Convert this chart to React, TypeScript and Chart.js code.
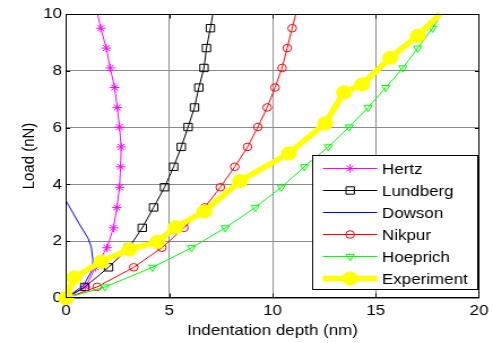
import React, { useEffect, useRef } from 'react';
import { Chart, registerables } from 'chart.js';

Chart.register(...registerables);

// ---- data ----
const loadModel = [0, 0.39, 1.08, 1.77, 2.47, 3.19, 3.9, 4.62, 5.32, 6.02, 6.71, 7.41, 8.1, 8.8, 9.5, 10.0];
const hertzDepth = [0, 0.95, 1.42, 1.98, 2.3, 2.46, 2.59, 2.64, 2.67, 2.59, 2.48, 2.35, 2.14, 1.95, 1.68, 1.53];
const lundbergDepth = [0, 0.91, 2.06, 3.04, 3.69, 4.24, 4.77, 5.21, 5.58, 5.91, 6.22, 6.43, 6.68, 6.8, 6.99, 7.11];
const nikpurDepth = [0, 1.5, 3.28, 4.64, 5.71, 6.71, 7.47, 8.17, 8.79, 9.29, 9.74, 10.12, 10.46, 10.71, 10.95, 11.13];
const hoeprichDepth = [0, 1.89, 4.19, 6.08, 7.71, 9.16, 10.42, 11.54, 12.7, 13.71, 14.63, 15.48, 16.31, 17.03, 17.75, 18.18];
const dowsonDepth = [0, 0.85, 1.28, 1.3, 1.22, 1.07, 0.67, 0.0];
const dowsonLoad = [0, 0.45, 1.0, 1.35, 1.8, 2.1, 2.57, 3.42];
const expDepth = [0, 0.4, 1.71, 3.07, 4.43, 5.31, 6.7, 8.43, 10.79, 12.55, 13.46, 14.34, 15.7, 17.03, 18.1];
const expLoad = [0, 0.72, 1.28, 1.71, 1.98, 2.49, 3.05, 4.12, 5.09, 6.15, 7.24, 7.52, 8.46, 9.23, 10.0];

const seriesNames = ['Hertz', 'Lundberg', 'Dowson', 'Nikpur', 'Hoeprich', 'Experiment'];
const xTitle = 'Indentation depth (nm)';
const yTitle = 'Load (nN)';
const xMin = 0, xMax = 20, xStep = 5;
const yMin = 0, yMax = 10, yStep = 2;

// ---- layout (internal canvas px; canvas is stretched horizontally like the reference) ----
const W = 436;
const H = 343;
const STRETCH = 493 / W;
const FONT = 'Liberation Sans, Arial, sans-serif';

const pts = (xs: number[], ys: number[]) => xs.map((x, i) => ({ x, y: ys[i] }));
const radii = (n: number, r: number) => Array.from({ length: n }, (_, i) => (i === n - 1 ? 0 : r));

type Mk = { style: string; r: number; color: string; fill: string; rot?: number; lw: number };
const markers: Mk[] = [
  { style: 'star', r: 4.2, color: '#ff00ff', fill: 'rgba(0,0,0,0)', lw: 1 },
  { style: 'rect', r: 5.2, color: '#000000', fill: 'rgba(0,0,0,0)', lw: 1 },
  { style: 'none', r: 0, color: '#0000ff', fill: 'rgba(0,0,0,0)', lw: 1 },
  { style: 'circle', r: 3.8, color: '#ff0000', fill: 'rgba(0,0,0,0)', lw: 1 },
  { style: 'triangle', r: 4.2, color: '#00ff00', fill: 'rgba(0,0,0,0)', rot: 180, lw: 1 },
  { style: 'circle', r: 6.6, color: '#ffff00', fill: '#ffff00', lw: 5.5 },
];

function drawMarker(ctx: CanvasRenderingContext2D, m: Mk, x: number, y: number) {
  ctx.save();
  ctx.strokeStyle = m.color;
  ctx.fillStyle = m.fill;
  ctx.lineWidth = 1;
  ctx.beginPath();
  if (m.style === 'star') {
    for (let k = 0; k < 4; k++) {
      const a = (k * Math.PI) / 4;
      ctx.moveTo(x - Math.cos(a) * m.r, y - Math.sin(a) * m.r);
      ctx.lineTo(x + Math.cos(a) * m.r, y + Math.sin(a) * m.r);
    }
    ctx.stroke();
  } else if (m.style === 'rect') {
    const s = m.r * Math.SQRT1_2;
    ctx.rect(x - s, y - s, 2 * s, 2 * s);
    ctx.stroke();
  } else if (m.style === 'circle') {
    ctx.arc(x, y, m.r, 0, Math.PI * 2);
    ctx.fill();
    ctx.stroke();
  } else if (m.style === 'triangle') {
    let rad = Math.PI;
    ctx.moveTo(x + Math.sin(rad) * m.r, y - Math.cos(rad) * m.r);
    rad += (2 * Math.PI) / 3;
    ctx.lineTo(x + Math.sin(rad) * m.r, y - Math.cos(rad) * m.r);
    rad += (2 * Math.PI) / 3;
    ctx.lineTo(x + Math.sin(rad) * m.r, y - Math.cos(rad) * m.r);
    ctx.closePath();
    ctx.stroke();
  }
  ctx.restore();
}

const framePlugin = {
  id: 'frameAndLegend',
  afterDatasetsDraw(chart: any) {
    const { ctx, chartArea: a, scales } = chart;
    const xs = scales.x;
    const ys = scales.y;
    ctx.save();
    ctx.strokeStyle = '#000';
    ctx.lineWidth = 1;
    const L = Math.round(a.left) + 0.5;
    const R = Math.round(a.right) - 0.5;
    const T = Math.round(a.top) + 0.5;
    const B = Math.round(a.bottom) - 0.5;
    ctx.strokeRect(L, T, R - L, B - T);
    ctx.beginPath();
    for (let v = xMin + xStep; v < xMax; v += xStep) {
      const px = Math.round(xs.getPixelForValue(v)) + 0.5;
      ctx.moveTo(px, B); ctx.lineTo(px, B - 4);
      ctx.moveTo(px, T); ctx.lineTo(px, T + 4);
    }
    for (let v = yMin + yStep; v < yMax; v += yStep) {
      const py = Math.round(ys.getPixelForValue(v)) + 0.5;
      ctx.moveTo(L, py); ctx.lineTo(L + 3.5, py);
      ctx.moveTo(R, py); ctx.lineTo(R - 3.5, py);
    }
    ctx.stroke();

    // legend
    const bx = 276.5, by = 155.5, bw = 146, bh = 134;
    ctx.fillStyle = '#fff';
    ctx.fillRect(bx, by, bw, bh);
    ctx.strokeStyle = '#000';
    ctx.strokeRect(bx, by, bw, bh);
    ctx.font = `15px ${FONT}`;
    ctx.textBaseline = 'middle';
    ctx.textAlign = 'left';
    seriesNames.forEach((name, i) => {
      const m = markers[i];
      const y = 168.5 + i * 22;
      ctx.beginPath();
      ctx.strokeStyle = m.color;
      ctx.lineWidth = m.lw;
      ctx.moveTo(285.6, y);
      ctx.lineTo(333.6, y);
      ctx.stroke();
      drawMarker(ctx, m, 309.7, y);
      ctx.fillStyle = '#000';
      ctx.fillText(name, 337.8, y + 1);
    });
    ctx.restore();
  },
};

export default function App() {
  const ref = useRef<HTMLCanvasElement | null>(null);
  useEffect(() => {
    if (!ref.current) return;
    const modelSet = (i: number, depth: number[], order: number) => ({
      label: seriesNames[i],
      data: pts(depth, loadModel),
      showLine: true,
      borderColor: markers[i].color,
      backgroundColor: markers[i].fill,
      borderWidth: 1,
      pointStyle: markers[i].style,
      pointRadius: radii(loadModel.length, markers[i].r),
      pointBorderColor: markers[i].color,
      pointBackgroundColor: markers[i].fill,
      pointBorderWidth: 1,
      pointRotation: markers[i].rot || 0,
      order,
      clip: false,
    });
    const chart = new Chart(ref.current, {
      type: 'scatter',
      data: {
        datasets: [
          modelSet(0, hertzDepth, 5),
          modelSet(1, lundbergDepth, 4),
          {
            label: seriesNames[2],
            data: pts(dowsonDepth, dowsonLoad),
            showLine: true,
            borderColor: '#0000ff',
            borderWidth: 1,
            pointRadius: 0,
            order: 3,
          },
          modelSet(3, nikpurDepth, 2),
          modelSet(4, hoeprichDepth, 1),
          {
            label: seriesNames[5],
            data: pts(expDepth, expLoad),
            showLine: true,
            borderColor: '#ffff00',
            backgroundColor: '#ffff00',
            borderWidth: 5.5,
            pointStyle: 'circle',
            pointRadius: radii(expDepth.length, 6.6),
            pointBorderColor: '#ffff00',
            pointBackgroundColor: '#ffff00',
            pointBorderWidth: 1,
            order: 0,
            clip: false,
          },
        ] as any,
      },
      options: {
        animation: false,
        responsive: false,
        maintainAspectRatio: false,
        devicePixelRatio: 1,
        layout: { padding: { left: 0, right: 8.6, top: 14, bottom: 0 } },
        plugins: { legend: { display: false }, tooltip: { enabled: false } },
        scales: {
          x: {
            type: 'linear',
            min: xMin,
            max: xMax,
            ticks: { stepSize: xStep, color: '#000', font: { family: FONT, size: 15 }, padding: 4, maxRotation: 0 },
            grid: { color: '#8a8a8a', drawTicks: false, lineWidth: 1 },
            border: { display: false },
            title: { display: true, text: xTitle, color: '#000', font: { family: FONT, size: 15 }, padding: { top: 0, bottom: 3 } },
            afterFit: (s: any) => { s.height = 45; },
          },
          y: {
            type: 'linear',
            min: yMin,
            max: yMax,
            ticks: { stepSize: yStep, color: '#000', font: { family: FONT, size: 15 }, padding: 3.5 },
            grid: { color: '#8a8a8a', drawTicks: false, lineWidth: 1 },
            border: { display: false },
            title: { display: true, text: yTitle, color: '#000', font: { family: FONT, size: 15 }, padding: { top: 17, bottom: 0 } },
            afterFit: (s: any) => { s.width = 58.4; },
          },
        },
      },
      plugins: [framePlugin],
    } as any);
    return () => chart.destroy();
  }, []);

  return (
    <div style={{ position: 'absolute', left: 0, top: 0, width: 493, height: 343, overflow: 'hidden', background: '#fff' }}>
      <canvas
        ref={ref}
        width={W}
        height={H}
        style={{ display: 'block', width: W, height: H, transform: `scaleX(${STRETCH})`, transformOrigin: '0 0' }}
      />
    </div>
  );
}
